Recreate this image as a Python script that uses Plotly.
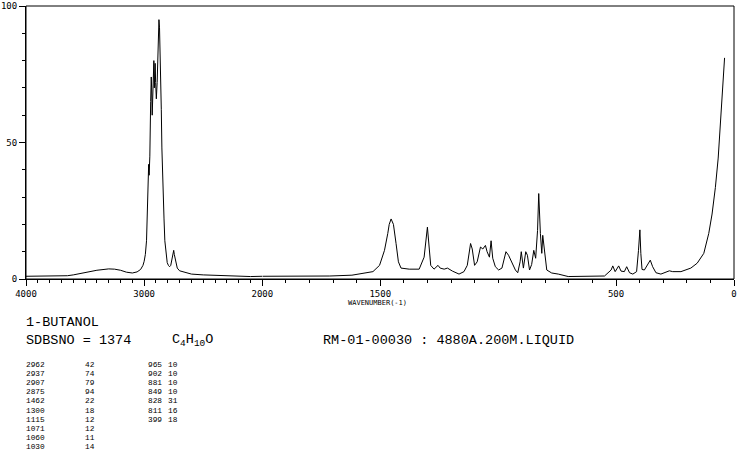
import plotly.graph_objects as go

# ---------------- spectrum data (wavenumber cm-1, relative intensity) ----------------
wn_high = [4000, 3800, 3650, 3600, 3500, 3400, 3300, 3250, 3200, 3150, 3100, 3060, 3030,
           3010, 3000, 2990, 2980, 2972, 2966, 2962, 2958, 2952, 2945, 2940, 2937, 2932,
           2928, 2922, 2918, 2914, 2910, 2907, 2903, 2897, 2890, 2885, 2880, 2875, 2870,
           2866, 2860, 2855, 2850, 2845, 2840, 2832, 2825, 2815, 2805, 2795, 2785, 2775,
           2765, 2755, 2750, 2745, 2738, 2730, 2720, 2700, 2650, 2600, 2500, 2400, 2300,
           2200, 2100, 2000]
int_high = [1.0, 1.0, 1.2, 1.5, 2.3, 3.2, 3.7, 3.6, 3.2, 2.5, 2.2, 2.6, 3.5,
            5.0, 6.5, 9.0, 14.0, 25.0, 38.0, 42.0, 38.0, 45.0, 65.0, 74.0, 70.0, 60.0,
            70.0, 78.0, 80.0, 70.0, 78.0, 79.0, 72.0, 66.0, 72.0, 80.0, 88.0, 95.0, 92.0,
            86.0, 72.0, 62.0, 48.0, 38.0, 30.0, 22.0, 14.0, 9.0, 6.0, 5.0, 4.5, 5.0,
            7.0, 9.5, 10.5, 9.0, 7.5, 5.5, 4.0, 3.0, 2.3, 1.8, 1.5, 1.3, 1.1,
            1.0, 0.9, 1.0]

wn_low = [2000, 1900, 1800, 1714, 1620, 1573, 1531, 1503, 1482, 1468, 1462, 1454, 1444,
          1433, 1423, 1412, 1377, 1335, 1314, 1300, 1293, 1286, 1272, 1255, 1246, 1229,
          1215, 1194, 1166, 1145, 1131, 1117, 1110, 1100, 1089, 1075, 1065, 1054, 1047,
          1037, 1030, 1023, 1012, 998, 984, 967, 956, 942, 927, 917, 907, 902, 893, 883,
          876, 867, 858, 849, 841, 833, 828, 821, 815, 811, 804, 794, 773, 745, 703,
          650, 600, 549, 521, 514, 504, 489, 479, 465, 455, 443, 429, 413, 405, 399,
          395, 390, 380, 364, 355, 345, 331, 310, 274, 260, 225, 183, 156, 128, 107,
          93, 79, 67, 57, 48, 43, 40]
int_low = [1.0, 1.0, 1.1, 1.1, 1.4, 2.0, 2.7, 5.0, 10.5, 16.7, 20.0, 22.0, 20.0,
           13.0, 6.3, 4.0, 3.6, 3.6, 8.0, 19.0, 11.7, 5.0, 3.6, 5.0, 4.0, 3.6,
           4.0, 2.9, 1.8, 2.7, 5.0, 13.0, 11.0, 5.0, 6.3, 11.7, 11.0, 12.3, 10.0,
           8.0, 14.0, 7.6, 4.5, 3.3, 4.0, 10.0, 8.7, 6.3, 3.3, 2.3, 6.3, 10.0, 4.0, 10.0,
           8.7, 3.3, 5.3, 10.5, 7.6, 17.8, 31.3, 16.7, 9.4, 16.0, 10.0, 3.3, 2.2, 1.8, 0.9,
           0.9, 1.0, 1.1, 3.3, 4.8, 2.7, 4.8, 2.9, 2.7, 4.5, 2.3, 1.8, 2.7, 10.5, 18.0,
           9.4, 3.5, 3.3, 5.7, 6.9, 4.5, 2.3, 1.8, 3.0, 2.7, 2.7, 4.0, 5.8, 9.4, 16.7,
           23.8, 33.5, 44.3, 57.6, 69.7, 78.0, 81.0]

# ---------------- peak table ----------------
peaks_a_wn = [2962, 2937, 2907, 2875, 1462, 1300, 1115, 1071, 1060, 1030]
peaks_a_int = [42, 74, 79, 94, 22, 18, 12, 12, 11, 14]
peaks_b_wn = [965, 902, 881, 849, 828, 811, 399]
peaks_b_int = [10, 10, 10, 10, 31, 16, 18]

x_ticks_high = [4000, 3000]
x_ticks_low = [2000, 1500, 500, 0]
y_ticks = [0, 50, 100]

W, H = 738, 457
L, R, T, B = 24, 1, 3, 178
PW = W - L - R
PH = H - T - B
split = 238 / PW

fig = go.Figure()
line = dict(color="black", width=1)
fig.add_trace(go.Scatter(x=wn_high, y=int_high, mode="lines", line=line,
                         xaxis="x", yaxis="y", hoverinfo="skip", showlegend=False))
fig.add_trace(go.Scatter(x=wn_low, y=int_low, mode="lines", line=line,
                         xaxis="x2", yaxis="y", hoverinfo="skip", showlegend=False))

tickfont = dict(family="DejaVu Sans Mono", size=9, color="black")
common_x = dict(showgrid=False, zeroline=False, showline=True, linecolor="black", linewidth=1,
                ticks="outside", ticklen=6, tickwidth=1, tickcolor="black", tickfont=tickfont,
                tickmode="array", ticklabeloverflow="allow",
                minor=dict(ticks="outside", ticklen=3, tickwidth=1, tickcolor="black",
                           tickmode="linear", tick0=0, dtick=100, showgrid=False))

fig.update_layout(
    width=W, height=H,
    margin=dict(l=L, r=R, t=T, b=B),
    paper_bgcolor="white", plot_bgcolor="white",
    xaxis=dict(domain=[0, split], range=[4000, 2000], anchor="y",
               tickvals=x_ticks_high, ticktext=[str(v) for v in x_ticks_high], **common_x),
    xaxis2=dict(domain=[split, 1], range=[2000, 0], anchor="y",
                tickvals=x_ticks_low, ticktext=[str(v) for v in x_ticks_low], **common_x),
    yaxis=dict(range=[0, 100], showgrid=False, zeroline=False, showline=True,
               linecolor="black", linewidth=1, ticks="outside", ticklen=6,
               tickcolor="black", tickfont=tickfont, tickmode="array",
               ticklabeloverflow="allow",
               tickvals=y_ticks, ticktext=[str(v) for v in y_ticks],
               minor=dict(ticks="outside", ticklen=3, tickcolor="black",
                          tickmode="linear", tick0=0, dtick=10)),
    showlegend=False,
)

fig.add_shape(type="rect", xref="paper", yref="paper", x0=0, x1=1, y0=0, y1=1,
              line=dict(color="black", width=1), fillcolor="rgba(0,0,0,0)", layer="above")


def px(xp):
    return (xp - L) / PW


def py(yp):
    return (H - B - yp) / PH


def text(s, xp, yp, size, xanchor="left", family="Liberation Mono"):
    fig.add_annotation(text=s, xref="paper", yref="paper", x=px(xp), y=py(yp),
                       xanchor=xanchor, yanchor="middle", showarrow=False, borderpad=0,
                       font=dict(family=family, size=size, color="black"))


text("WAVENUMBER(-1)", 378, 303.5, 7, xanchor="center", family="DejaVu Sans Mono")
text("1-BUTANOL", 23, 323, 13.5)
text("SDBSNO = 1374", 23, 341, 13.5)
text("C<sub>4</sub>H<sub>10</sub>O", 170, 341, 13.5)
text("RM-01-00030 : 4880A.200M.LIQUID", 322, 341, 13.5)

row0, dy = 366, 9.2
for i, (w, v) in enumerate(zip(peaks_a_wn, peaks_a_int)):
    text(str(w), 23, row0 + i * dy, 7.8)
    text(str(v), 82, row0 + i * dy, 7.8)
for i, (w, v) in enumerate(zip(peaks_b_wn, peaks_b_int)):
    text(str(w), 146, row0 + i * dy, 7.8)
    text(str(v), 166, row0 + i * dy, 7.8)

fig.write_html("out.html", config={"displayModeBar": False},
               post_script="document.body.style.margin='0px';")
